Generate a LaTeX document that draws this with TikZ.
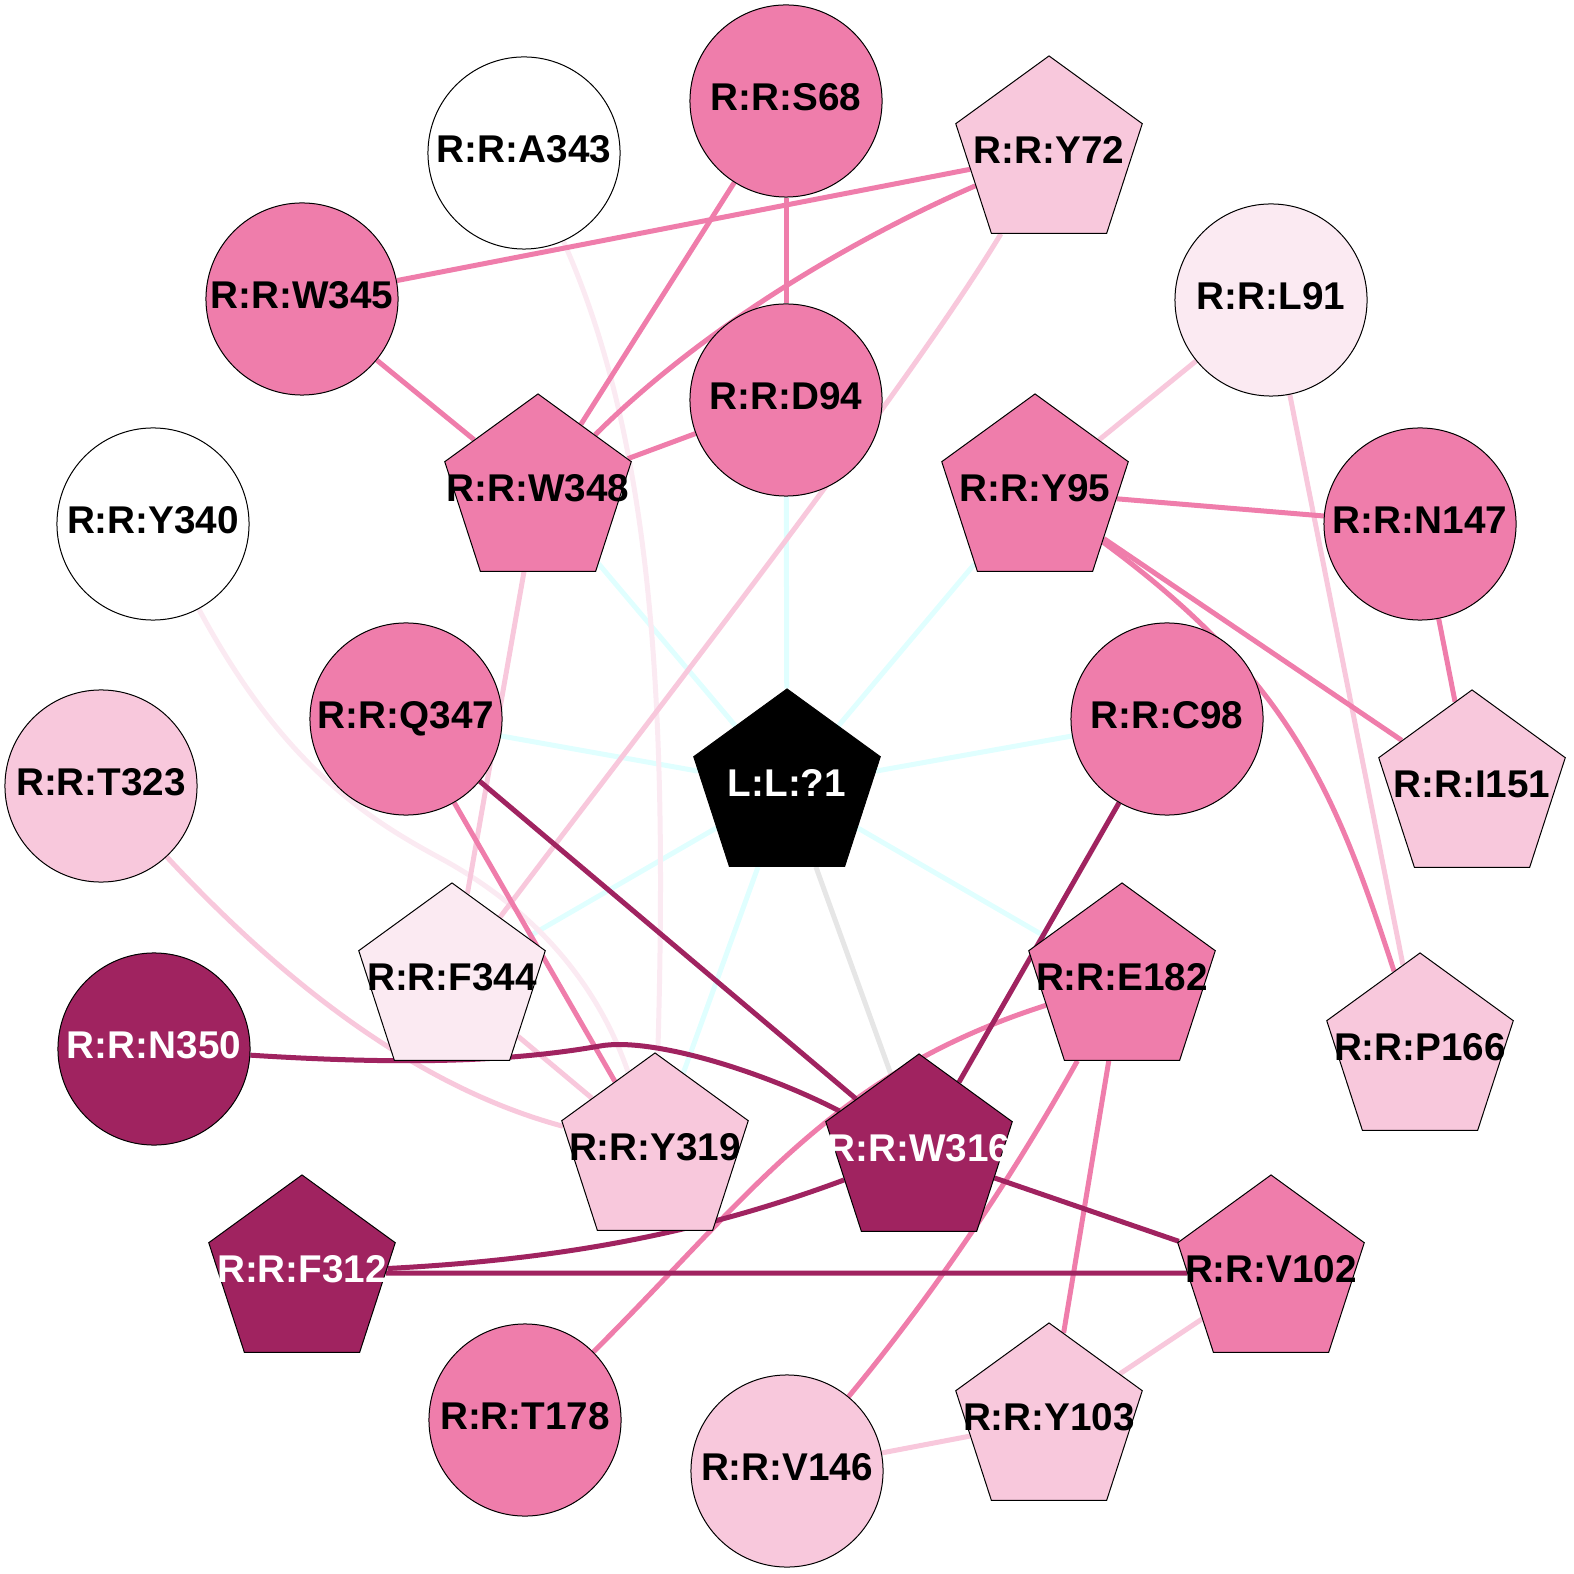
\documentclass[tikz,border=0pt]{standalone}
\usepackage{fontspec}
\setmainfont{Liberation Sans}
\usetikzlibrary{shapes.geometric,backgrounds}

\def\resdiam{1.92cm}
\colorlet{w0}{white}
\definecolor{w1}{HTML}{FBEAF2}
\definecolor{w2}{HTML}{F8C8DC}
\definecolor{w3}{HTML}{EF7DAB}
\definecolor{w4}{HTML}{A02360}
\definecolor{ligcontact}{HTML}{E0FFFF}
\definecolor{hydcontact}{HTML}{E6E6E6}

\begin{document}
\begin{tikzpicture}
    [x=0.01cm,y=-0.01cm,
      res/.style={draw,line width=0.01cm,inner sep=0pt,text depth=0.08cm,
        font=\fontsize{11}{13}\selectfont\bfseries,
        execute at begin node={\hbox to 0pt\bgroup\hss},
        execute at end node={\hss\egroup}},
      resc/.style={res,circle,minimum size=\resdiam},
      resp/.style={res,regular polygon,regular polygon sides=5,minimum size=1.96cm},
      contact/.style={line width=0.05cm}]

    \useasboundingbox (0,0) rectangle (1574,1574);

    % residues drawn as circles
    \foreach \n/\x/\y/\col/\txt in {S68/786/101/w3/black,A343/524/153/w0/black,
        W345/302/299/w3/black,L91/1271/300/w1/black,D94/786/400/w3/black,
        Y340/153/524/w0/black,N147/1420/524/w3/black,Q347/406/719/w3/black,
        C98/1167/719/w3/black,T323/101/786/w2/black,N350/154/1049/w4/white,
        T178/525/1420/w3/black,V146/787/1471/w2/black}
      \node[resc,fill=\col,text=\txt] (\n) at (\x,\y) {R:R:\n};

    % residues drawn as pentagons
    \foreach \n/\x/\y/\col/\txt in {Y72/1049/154/w2/black,W348/538/492/w3/black,
        Y95/1035/492/w3/black,I151/1472/788/w2/black,F344/452/981/w1/black,
        E182/1122/981/w3/black,P166/1420/1051/w2/black,Y319/655/1151/w2/black,
        W316/919/1152/w4/white,F312/302/1273/w4/white,V102/1271/1273/w3/black,
        Y103/1049/1421/w2/black}
      \node[resp,fill=\col,text=\txt] (\n) at (\x,\y) {R:R:\n};

    \node[resp,fill=black,text=white] (L1) at (787,787) {L:L:?1};

    \begin{scope}[on background layer]
      % ligand
      \foreach \m in {D94,W348,Y95,Q347,C98,F344,Y319,E182}
        \draw[contact,ligcontact] (L1) -- (\m);
      \draw[contact,hydcontact] (L1) -- (W316);
      % weak
      \draw[contact,w1] (A343) .. controls (652,440) and (668,700) .. (Y319);
      \draw[contact,w1] (Y340) .. controls (280,760) and (360,815) .. (440,858)
        .. controls (540,912) and (600,990) .. (Y319);
      \foreach \a/\b in {W348/F344,L91/Y95,L91/P166,F344/Y319,V102/Y103,Y103/V146}
        \draw[contact,w2] (\a) -- (\b);
      \draw[contact,w2] (Y72) .. controls (905,393) and (635,738) .. (F344);
      \draw[contact,w2] (T323) .. controls (283,982) and (417,1087) .. (Y319);
      % medium
      \foreach \a/\b in {W345/Y72,S68/W348,S68/D94,W345/W348,W348/D94,Y95/N147,
          Y95/I151,N147/I151,Q347/Y319,E182/Y103}
        \draw[contact,w3] (\a) -- (\b);
      \draw[contact,w3] (Y72) .. controls (850,240) and (700,330) .. (W348);
      \draw[contact,w3] (Y95) .. controls (1290,680) and (1335,790) .. (P166);
      \draw[contact,w3] (E182) .. controls (831,1074) and (752,1194) .. (T178);
      \draw[contact,w3] (E182) .. controls (1013,1176) and (936,1291) .. (V146);
      % strong
      \foreach \a/\b in {Q347/W316,C98/W316,W316/V102,F312/V102}
        \draw[contact,w4] (\a) -- (\b);
      \draw[contact,w4] (W316) .. controls (691,1237) and (549,1260) .. (F312);
      \draw[contact,w4] (N350) .. controls (420,1066) and (520,1060) .. (600,1046)
        .. controls (650,1037) and (760,1070) .. (W316);
    \end{scope}
\end{tikzpicture}
\end{document}
